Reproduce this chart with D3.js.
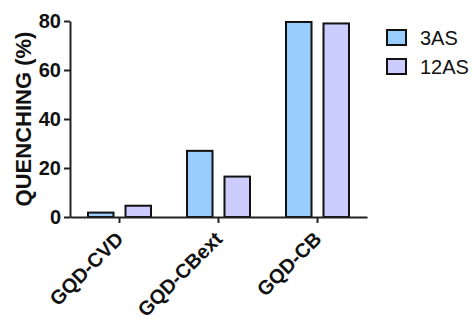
<!DOCTYPE html>
<html>
<head>
<meta charset="utf-8">
<script src="https://cdn.jsdelivr.net/npm/d3@7"></script>
<style>
  html, body { margin: 0; padding: 0; background: #fff; }
  svg { display: block; }
  text { font-family: "Liberation Sans", Arial, sans-serif; }
</style>
</head>
<body>
<script>
const categories = ["GQD-CVD", "GQD-CBext", "GQD-CB"];
const seriesNames = ["3AS", "12AS"];
const values3AS = [1.8, 27, 79.6];
const values12AS = [4.6, 16.5, 79];
const yTicks = [0, 20, 40, 60, 80];
const colors = ["#99CCFF", "#CCCCFF"];

const W = 473, H = 324;
const svg = d3.select("body").append("svg").attr("width", W).attr("height", H);

const x0 = d3.scaleBand().domain(categories).range([70, 367]);
const x1 = d3.scaleBand().domain(seriesNames).range([0, x0.bandwidth()])
  .paddingInner(0.32).paddingOuter(0.48);
const y = d3.scaleLinear().domain([0, 80]).range([217, 21]);
const color = d3.scaleOrdinal().domain(seriesNames).range(colors);

const data = categories.map((c, i) => ({
  cat: c,
  vals: [{ s: "3AS", v: values3AS[i] }, { s: "12AS", v: values12AS[i] }]
}));

// bars
const g = svg.append("g");
g.selectAll("g.grp").data(data).join("g")
  .attr("class", "grp")
  .attr("transform", d => `translate(${x0(d.cat)},0)`)
  .selectAll("rect").data(d => d.vals).join("rect")
  .attr("x", d => x1(d.s))
  .attr("width", x1.bandwidth())
  .attr("y", d => y(d.v))
  .attr("height", d => y(0) - y(d.v))
  .attr("fill", d => color(d.s))
  .attr("stroke", "#111")
  .attr("stroke-width", 2);

// y axis
const yAxis = svg.append("g").attr("transform", "translate(70,0)")
  .call(d3.axisLeft(y).tickValues(yTicks).tickSize(6).tickPadding(3).tickSizeOuter(0));
yAxis.select(".domain").attr("stroke", "#222").attr("stroke-width", 2);
yAxis.selectAll(".tick line").attr("stroke", "#222").attr("stroke-width", 2);
yAxis.selectAll(".tick text").attr("font-size", 20).attr("font-weight", "bold")
  .attr("fill", "#111").attr("font-family", "'Liberation Sans', Arial, sans-serif");

// x axis
const xAxis = svg.append("g").attr("transform", "translate(0,217)")
  .call(d3.axisBottom(x0).tickSize(6).tickSizeOuter(0).tickFormat(""));
xAxis.select(".domain").attr("stroke", "#222").attr("stroke-width", 2);
xAxis.selectAll(".tick line").attr("stroke", "#222").attr("stroke-width", 2);

// x labels rotated
svg.append("g").selectAll("text").data(categories).join("text")
  .attr("transform", d => `translate(${x0(d) + x0.bandwidth() / 2 - 5},230) rotate(-45)`)
  .attr("text-anchor", "end")
  .attr("dy", "0.72em")
  .attr("font-size", 20)
  .attr("font-weight", "bold")
  .attr("fill", "#111")
  .text(d => d);

// y title
svg.append("text")
  .attr("transform", "translate(31,119) rotate(-90)")
  .attr("text-anchor", "middle")
  .attr("font-size", 22)
  .attr("font-weight", "bold")
  .attr("fill", "#111")
  .text("QUENCHING (%)");

// legend
const leg = svg.append("g").selectAll("g").data(seriesNames).join("g")
  .attr("transform", (d, i) => `translate(387,${30 + i * 29})`);
leg.append("rect")
  .attr("width", 19).attr("height", 15)
  .attr("fill", d => color(d))
  .attr("stroke", "#111").attr("stroke-width", 2);
leg.append("text")
  .attr("x", 33).attr("y", 15)
  .attr("font-size", 20)
  .attr("fill", "#111")
  .text(d => d);
</script>
</body>
</html>
